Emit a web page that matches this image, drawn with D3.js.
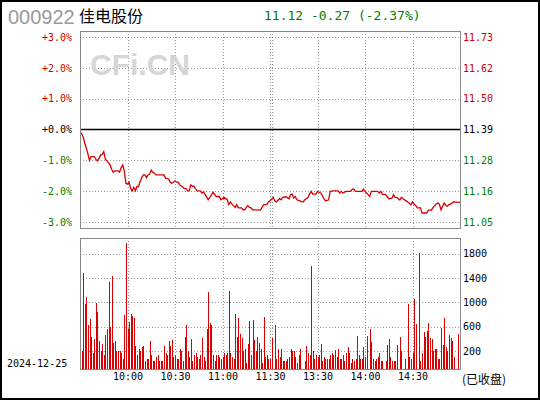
<!DOCTYPE html>
<html>
<head>
<meta charset="utf-8">
<script src="https://cdn.jsdelivr.net/npm/d3@7"></script>
<style>
  body { margin: 0; background: #fff; }
</style>
</head>
<body>
<div id="chart"></div>
<script>
// quote header
const stockCode = "000922";
const stockName = "佳电股份";
const quoteText = "11.12 -0.27 (-2.37%)";
const tradeDate = "2024-12-25";
const statusText = "(已收盘)";
const prevClose = 11.39;

// axis ticks
const pctTicks = [3, 2, 1, 0, -1, -2, -3];
const pctLabels = ["+3.0%", "+2.0%", "+1.0%", "+0.0%", "-1.0%", "-2.0%", "-3.0%"];
const priceLabels = ["11.73", "11.62", "11.50", "11.39", "11.28", "11.16", "11.05"];
const timeTicks = [30, 60, 90, 120, 150, 180, 210];
const timeLabels = ["10:00", "10:30", "11:00", "11:30", "13:30", "14:00", "14:30"];
const gridMinutes = [30, 60, 90, 120, 121, 150, 180, 210];
const volTicks = [200, 600, 1000, 1400, 1800];

// price line (minute index from 9:30, price)
const priceMin = [0, 1, 2, 3, 4, 5, 6, 7, 9, 10, 11, 12, 13, 14, 15, 16, 17, 19, 20, 21,
  22, 24, 25, 26, 27, 28, 29, 30, 31, 32, 33, 34, 35, 36, 37, 38, 39, 40, 41, 42,
  43, 44, 45, 46, 47, 48, 53, 54, 56, 57, 58, 59, 60, 61, 62, 63, 65, 66, 67, 68,
  69, 70, 71, 72, 73, 74, 76, 77, 78, 79, 80, 81, 84, 86, 88, 89, 91, 93, 94, 95,
  96, 98, 99, 100, 102, 103, 104, 105, 106, 107, 108, 109, 114, 115, 116, 118, 119, 120, 122, 123,
  124, 126, 127, 128, 130, 132, 133, 134, 135, 136, 137, 139, 140, 141, 142, 143, 144, 145, 146, 147,
  149, 150, 152, 153, 154, 155, 157, 158, 160, 163, 164, 165, 166, 168, 171, 172, 173, 174, 178, 179,
  180, 181, 182, 183, 184, 188, 189, 190, 191, 193, 194, 195, 197, 198, 199, 200, 201, 202, 203, 204,
  206, 207, 209, 210, 211, 212, 213, 215, 216, 219, 220, 222, 223, 225, 226, 227, 228, 229, 230, 231,
  232, 233, 234, 235, 236, 240];
const priceVal = [11.38, 11.375, 11.362, 11.34, 11.32, 11.30, 11.275, 11.29, 11.29, 11.28, 11.274, 11.283, 11.296, 11.297, 11.308, 11.28, 11.274, 11.259, 11.243, 11.232,
  11.237, 11.237, 11.232, 11.249, 11.259, 11.235, 11.191, 11.188, 11.195, 11.172, 11.163, 11.176, 11.163, 11.179, 11.179, 11.198, 11.212, 11.222, 11.222, 11.212,
  11.222, 11.225, 11.24, 11.232, 11.228, 11.222, 11.222, 11.21, 11.207, 11.195, 11.191, 11.195, 11.20, 11.195, 11.195, 11.185, 11.176, 11.171, 11.171, 11.163,
  11.163, 11.185, 11.18, 11.18, 11.17, 11.163, 11.163, 11.155, 11.16, 11.15, 11.14, 11.13, 11.157, 11.142, 11.142, 11.13, 11.139, 11.13, 11.112, 11.122,
  11.114, 11.102, 11.112, 11.10, 11.10, 11.093, 11.093, 11.102, 11.109, 11.102, 11.10, 11.093, 11.092, 11.102, 11.112, 11.112, 11.122, 11.126, 11.139, 11.126,
  11.122, 11.134, 11.13, 11.139, 11.141, 11.134, 11.149, 11.151, 11.136, 11.142, 11.13, 11.126, 11.122, 11.122, 11.13, 11.134, 11.139, 11.151, 11.161, 11.151,
  11.151, 11.161, 11.155, 11.146, 11.134, 11.126, 11.129, 11.161, 11.163, 11.163, 11.155, 11.161, 11.155, 11.161, 11.161, 11.169, 11.169, 11.161, 11.161, 11.169,
  11.161, 11.155, 11.149, 11.142, 11.161, 11.161, 11.155, 11.161, 11.151, 11.149, 11.142, 11.134, 11.136, 11.149, 11.139, 11.139, 11.134, 11.129, 11.139, 11.134,
  11.126, 11.122, 11.112, 11.122, 11.114, 11.109, 11.10, 11.10, 11.081, 11.081, 11.092, 11.092, 11.102, 11.114, 11.118, 11.113, 11.093, 11.106, 11.118, 11.11,
  11.106, 11.112, 11.114, 11.118, 11.122, 11.12];

// volume per minute (index = minute from 9:30)
const volume = [0,
  189, 1487, 964, 1080, 618, 728, 420, 156, 387, 981,
  832, 354, 200, 304, 139, 453, 552, 1327, 585, 1437,
  321, 354, 189, 189, 189, 156, 73, 783, 1971, 552,
  667, 800, 766, 733, 271, 123, 222, 205, 255, 271,
  40, 57, 57, 354, 139, 24, 40, 90, 139, 40,
  40, 24, 271, 172, 139, 354, 271, 370, 106, 139,
  73, 73, 238, 189, 40, 420, 618, 205, 106, 387,
  40, 139, 172, 106, 73, 123, 403, 90, 24, 552,
  1162, 662, 618, 139, 24, 139, 139, 106, 73, 90,
  156, 139, 156, 1179, 172, 106, 57, 800, 420, 733,
  470, 403, 205, 222, 7, 304, 684, 139, 700, 370,
  189, 420, 321, 238, 7, 750, 106, 123, 57, 57,
  403, 0, 618, 73, 222, 106, 238, 40, 40, 24,
  57, 90, 222, 189, 205, 90, 7, 123, 222, 0,
  0, 40, 271, 156, 139, 1591, 205, 73, 139, 90,
  123, 304, 24, 106, 73, 57, 57, 139, 156, 123,
  206, 90, 222, 73, 57, 139, 24, 172, 255, 172,
  7, 73, 40, 57, 437, 123, 57, 57, 255, 90,
  437, 0, 552, 337, 73, 24, 57, 106, 156, 24,
  40, 0, 24, 288, 387, 106, 40, 40, 24, 288,
  0, 420, 205, 0, 57, 0, 964, 106, 73, 156,
  1047, 634, 0, 1806, 24, 156, 502, 420, 519, 651,
  403, 387, 205, 238, 222, 73, 73, 568, 288, 733,
  255, 189, 453, 403, 354, 90, 0, 0, 470, 0];

const W = 540, H = 400;
const L = 80, R = 460;
const pTop = 31, pBot = 228;
const vTop = 238, vBot = 369;
const RED = "#cc0000", GREEN = "#008000", LINE = "#d80000";
const MONO = "'DejaVu Sans Mono', 'Liberation Mono', monospace";

const x = d3.scaleLinear().domain([0, 240]).range([L, R]);
const yPct = d3.scaleLinear().domain([-3.2, 3.2]).range([pBot, pTop]);
const yVol = d3.scaleLinear().domain([-100, 2060]).range([vBot, vTop]);
const signColor = d => d > 0 ? RED : (d < 0 ? GREEN : "#000");

const svg = d3.select("#chart").append("svg")
  .attr("width", W).attr("height", H)
  .style("display", "block");

svg.append("rect").attr("x", 1).attr("y", 1).attr("width", W - 2).attr("height", H - 2)
  .attr("fill", "#fff").attr("stroke", "#000").attr("stroke-width", 2);

// header
svg.append("text").attr("x", 8).attr("y", 24)
  .attr("font-family", "'Liberation Sans', Arial, sans-serif").attr("font-size", 20)
  .attr("fill", "#9a9a9a").text(stockCode);
svg.append("text").attr("x", 79).attr("y", 22)
  .attr("font-family", "'Noto Sans CJK SC', sans-serif").attr("font-size", 16)
  .attr("fill", "#000").text(stockName);
svg.append("text").attr("x", 264).attr("y", 20)
  .attr("font-family", MONO).attr("font-size", 13)
  .attr("fill", GREEN).text(quoteText);

// grids
function vGrid(top, bot) {
  svg.append("g").selectAll("line").data(gridMinutes).enter().append("line")
    .attr("x1", d => Math.round(x(d)) + 0.5).attr("x2", d => Math.round(x(d)) + 0.5)
    .attr("y1", top).attr("y2", bot)
    .attr("stroke", "#999").attr("stroke-dasharray", "1,2");
}
vGrid(pTop, pBot);
vGrid(vTop, vBot);

svg.append("g").selectAll("line").data(pctTicks.filter(d => d !== 0)).enter().append("line")
  .attr("x1", L).attr("x2", R)
  .attr("y1", d => Math.round(yPct(d)) + 0.5).attr("y2", d => Math.round(yPct(d)) + 0.5)
  .attr("stroke", "#999").attr("stroke-dasharray", "1,2");

svg.append("g").selectAll("line").data(volTicks).enter().append("line")
  .attr("x1", L).attr("x2", R)
  .attr("y1", d => Math.round(yVol(d)) + 0.5).attr("y2", d => Math.round(yVol(d)) + 0.5)
  .attr("stroke", "#999").attr("stroke-dasharray", "1,2");

// watermark
svg.append("text").attr("x", 90).attr("y", 75)
  .attr("font-family", "'Liberation Sans', Arial, sans-serif").attr("font-weight", "bold")
  .attr("font-size", 30).attr("fill", "#d6d6d6").text("CFi.CN");

// zero line
svg.append("line").attr("x1", L).attr("x2", R)
  .attr("y1", yPct(0)).attr("y2", yPct(0))
  .attr("stroke", "#000").attr("stroke-width", 1.5);

// price line
const pts = priceMin.map((m, i) => [m, (priceVal[i] / prevClose - 1) * 100]);
svg.append("path").datum(pts)
  .attr("fill", "none").attr("stroke", LINE).attr("stroke-width", 1.3)
  .attr("d", d3.line().x(d => x(d[0])).y(d => yPct(d[1])));

// volume bars
svg.append("g").selectAll("rect")
  .data(volume.map((v, m) => ({ m, v })).filter(d => d.v > 0))
  .enter().append("rect")
  .attr("x", d => Math.round(x(d.m)))
  .attr("y", d => yVol(d.v))
  .attr("width", 1.2)
  .attr("height", d => vBot - yVol(d.v))
  .attr("fill", LINE)
  .attr("shape-rendering", "crispEdges");

// panel borders
[[pTop, pBot], [vTop, vBot]].forEach(([t, b]) => {
  svg.append("rect").attr("x", L + 0.5).attr("y", t + 0.5)
    .attr("width", R - L).attr("height", b - t)
    .attr("fill", "none").attr("stroke", "#888");
});

// axes
function styleAxis(g) {
  g.select(".domain").remove();
  g.selectAll("text").attr("font-family", MONO).attr("font-size", 10);
}

svg.append("g").attr("transform", `translate(${L},0)`)
  .call(d3.axisLeft(yPct).tickValues(pctTicks).tickFormat((d, i) => pctLabels[i]).tickSize(0).tickPadding(8))
  .call(styleAxis)
  .selectAll("text").attr("fill", d => signColor(d));

svg.append("g").attr("transform", `translate(${R},0)`)
  .call(d3.axisRight(yPct).tickValues(pctTicks).tickFormat((d, i) => priceLabels[i]).tickSize(0).tickPadding(3))
  .call(styleAxis)
  .selectAll("text").attr("fill", d => signColor(d));

svg.append("g").attr("transform", `translate(${R},0)`)
  .call(d3.axisRight(yVol).tickValues(volTicks).tickFormat(d3.format("d")).tickSize(0).tickPadding(3))
  .call(styleAxis)
  .selectAll("text").attr("fill", "#000");

svg.append("g").attr("transform", `translate(0,${vBot})`)
  .call(d3.axisBottom(x).tickValues(timeTicks).tickFormat((d, i) => timeLabels[i]).tickSize(0).tickPadding(4))
  .call(styleAxis)
  .selectAll("text").attr("fill", "#000");

// footer texts
svg.append("text").attr("x", 7).attr("y", 367)
  .attr("font-family", MONO).attr("font-size", 10).attr("fill", "#000").text(tradeDate);
svg.append("text").attr("x", 462).attr("y", 384)
  .attr("font-family", "'Noto Sans CJK SC', sans-serif").attr("font-size", 12)
  .attr("fill", "#000").text(statusText);
</script>
</body>
</html>
